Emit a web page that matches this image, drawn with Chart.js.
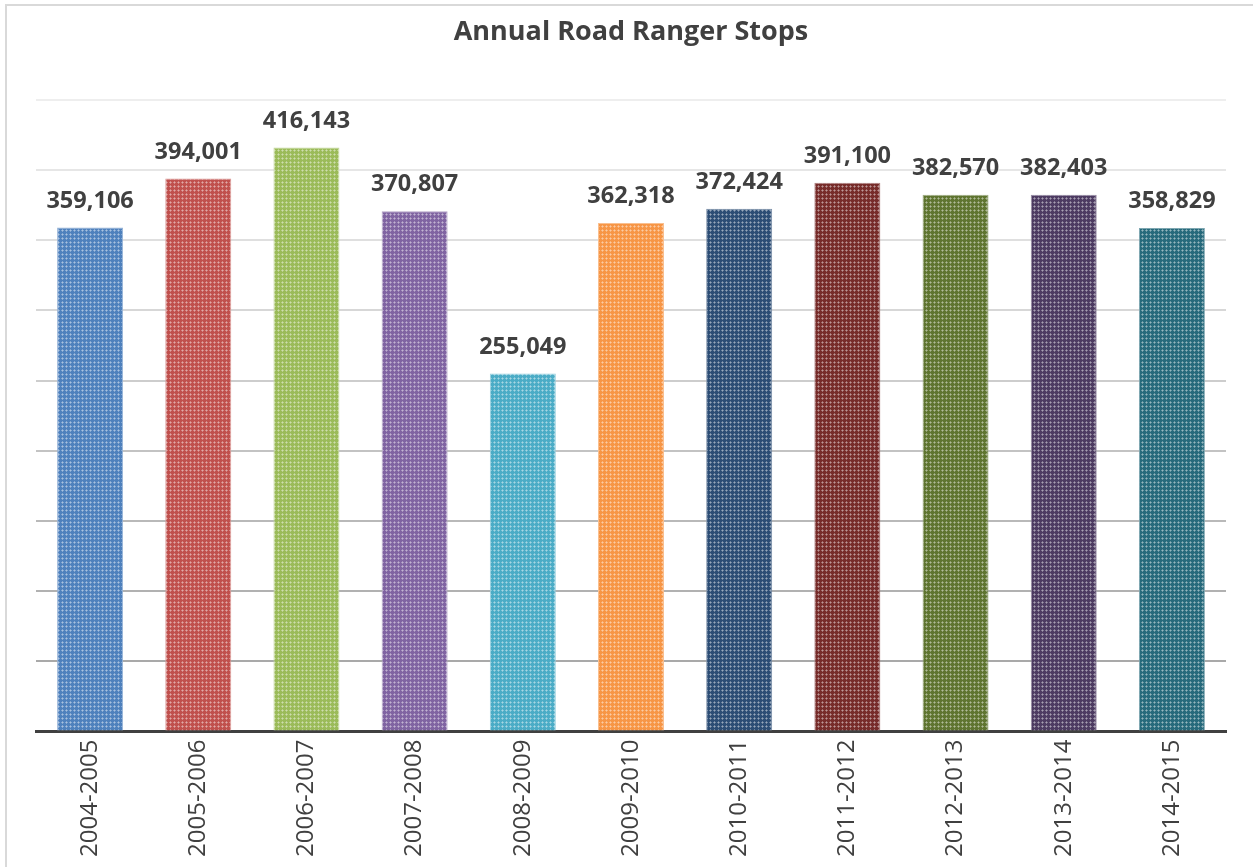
<!DOCTYPE html>
<html>
<head>
<meta charset="utf-8">
<title>Annual Road Ranger Stops</title>
<script src="https://cdn.jsdelivr.net/npm/chart.js@4"></script>
<style>
  body { margin: 0; background: #fff; overflow: hidden; }
  #frame { position: absolute; left: 5px; top: 4px; width: 1260px; height: 880px; border: 2px solid #d9d9d9; }
  #wrap { position: absolute; left: 0; top: 0; width: 1253px; height: 867px; }
</style>
</head>
<body>
<div id="frame"></div>
<div id="wrap"><canvas id="popChart"></canvas></div>
<script>
var years = ["2004-2005", "2005-2006", "2006-2007", "2007-2008", "2008-2009", "2009-2010",
             "2010-2011", "2011-2012", "2012-2013", "2013-2014", "2014-2015"];
var stops = [359106, 394001, 416143, 370807, 255049, 362318, 372424, 391100, 382570, 382403, 358829];
var barColors = ["#4f81bd", "#c0504d", "#9bbb59", "#8064a2", "#4bacc6", "#f79646",
                 "#2c4d75", "#772c2a", "#5f7530", "#4d3b62", "#276a7c"];
var yTicks = [0, 50000, 100000, 150000, 200000, 250000, 300000, 350000, 400000, 450000];
var gridColors = ["#404040", "#a9a9a9", "#b1b1b1", "#b9b9b9", "#c3c3c3", "#cdcdcd", "#d7d7d7", "#dfdfdf", "#e6e6e6", "#eeeeee"];

// little dotted fill, like the office "small grid" pattern
function dotPattern(color) {
    var c = document.createElement("canvas");
    c.width = 4; c.height = 4;
    var g = c.getContext("2d");
    g.fillStyle = color;
    g.fillRect(0, 0, 4, 4);
    g.fillStyle = "rgba(255,255,255,0.3)";
    g.fillRect(2, 1, 1, 3);
    g.fillRect(1, 2, 3, 1);
    return g.createPattern(c, "repeat");
}

function lighter(hex) {
    var r = parseInt(hex.substr(1, 2), 16), gg = parseInt(hex.substr(3, 2), 16), b = parseInt(hex.substr(5, 2), 16);
    return "rgba(" + Math.round(r + (255 - r) * 0.4) + "," + Math.round(gg + (255 - gg) * 0.4) + "," + Math.round(b + (255 - b) * 0.4) + ",1)";
}

var barLabels = {
    id: "barLabels",
    afterDatasetsDraw: function(chart) {
        var ctx = chart.ctx;
        var meta = chart.getDatasetMeta(0);
        ctx.save();
        ctx.font = "bold 23.5px 'Open Sans'";
        ctx.fillStyle = "#404040";
        ctx.textAlign = "center";
        ctx.textBaseline = "alphabetic";
        meta.data.forEach(function(bar, i) {
            ctx.fillText(stops[i].toLocaleString("en-US"), bar.x, bar.y - 20);
        });
        ctx.restore();
    }
};

var ctx = document.getElementById("popChart");
var myChart = new Chart(ctx, {
    type: "bar",
    data: {
        labels: years,
        datasets: [{
            label: "Stops",
            data: stops,
            backgroundColor: barColors.map(dotPattern),
            borderColor: barColors.map(lighter),
            borderWidth: 1,
            categoryPercentage: 1,
            barPercentage: 0.61
        }]
    },
    options: {
        responsive: true,
        maintainAspectRatio: false,
        animation: false,
        layout: { padding: { left: 36, right: 27, top: 0, bottom: 10 } },
        plugins: {
            legend: { display: false },
            tooltip: { enabled: false },
            title: {
                display: true,
                text: "Annual Road Ranger Stops",
                color: "#404040",
                font: { family: "'Open Sans'", size: 27, weight: "bold" },
                padding: { top: 16, bottom: 51.6 }
            }
        },
        scales: {
            x: {
                grid: { display: false },
                border: { color: "#404040", width: 3 },
                ticks: {
                    color: "#404040",
                    font: { family: "'Open Sans'", size: 24 },
                    minRotation: 90,
                    maxRotation: 90,
                    padding: 0
                }
            },
            y: {
                min: 0,
                max: 450000,
                afterBuildTicks: function(axis) {
                    axis.ticks = yTicks.map(function(v) { return { value: v }; });
                },
                ticks: { display: false },
                border: { display: false },
                grid: {
                    drawTicks: false,
                    lineWidth: 2,
                    color: function(c) { return gridColors[c.index]; }
                }
            }
        }
    },
    plugins: [barLabels]
});
</script>
</body>
</html>
